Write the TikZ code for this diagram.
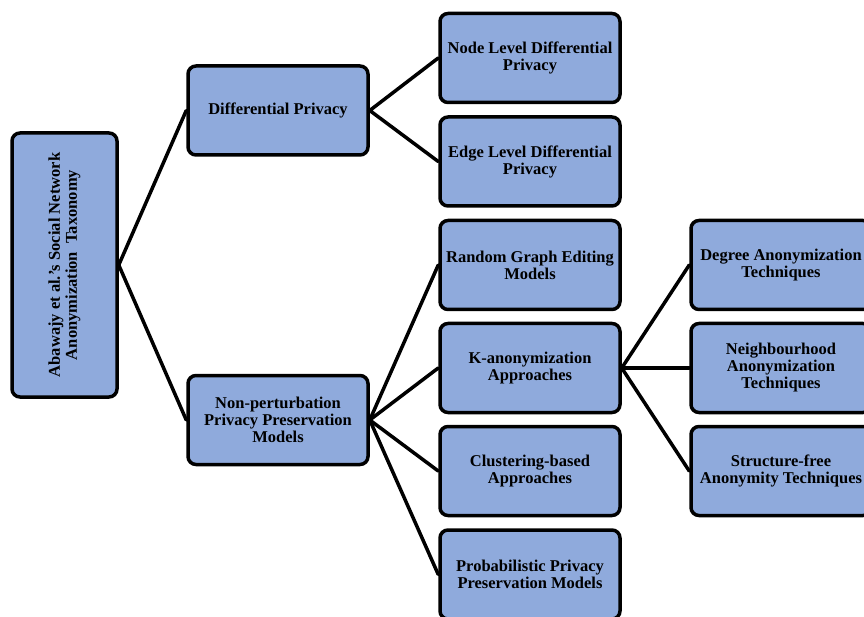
\documentclass[tikz,border=0pt]{standalone}
\usepackage{fontspec}
\setmainfont{Liberation Serif}
\definecolor{boxblue}{HTML}{8FAADC}
\begin{document}
\begin{tikzpicture}[x=1pt,y=-1pt,
  box/.style={draw=black, line width=3.5pt, rounded corners=8pt, fill=boxblue,
    minimum width=180pt, minimum height=89pt, align=center,
    font=\fontsize{16.5}{17}\selectfont\bfseries, inner sep=1pt},
  link/.style={line width=3.5pt, line cap=round}]
\useasboundingbox (0,0) rectangle (864,617);
% root
\node[box, minimum width=264pt, minimum height=105pt, rotate=90] (root) at (64.5,265)
  {Abawajy et al.'s Social Network\\Anonymization\ \ Taxonomy};
% level 1
\node[box] (dp) at (278,110.5) {Differential Privacy};
\node[box] (np) at (278,420) {Non-perturbation\\Privacy Preservation\\Models};
% level 2
\node[box] (nl) at (530,58) {Node Level Differential\\Privacy};
\node[box] (el) at (530,161.5) {Edge Level Differential\\Privacy};
\node[box] (rg) at (530,265) {Random Graph Editing\\Models};
\node[box] (ka) at (530,368) {K-anonymization\\Approaches};
\node[box] (cb) at (530,471) {Clustering-based\\Approaches};
\node[box] (pp) at (530,574.5) {Probabilistic Privacy\\Preservation Models};
% level 3
\node[box] (da) at (781,265) {Degree Anonymization\\Techniques};
\node[box] (na) at (781,368) {Neighbourhood\\Anonymization\\Techniques};
\node[box] (sf) at (781,471) {Structure-free\\Anonymity Techniques};
% connectors
\draw[link] (dp.west) -- (root.south) -- (np.west);
\draw[link] (nl.west) -- (dp.east) -- (el.west);
\draw[link] (np.east) -- (rg.west);
\draw[link] (np.east) -- (ka.west);
\draw[link] (np.east) -- (cb.west);
\draw[link] (np.east) -- (pp.west);
\draw[link] (ka.east) -- (da.west);
\draw[link] (ka.east) -- (na.west);
\draw[link] (ka.east) -- (sf.west);
\end{tikzpicture}
\end{document}
